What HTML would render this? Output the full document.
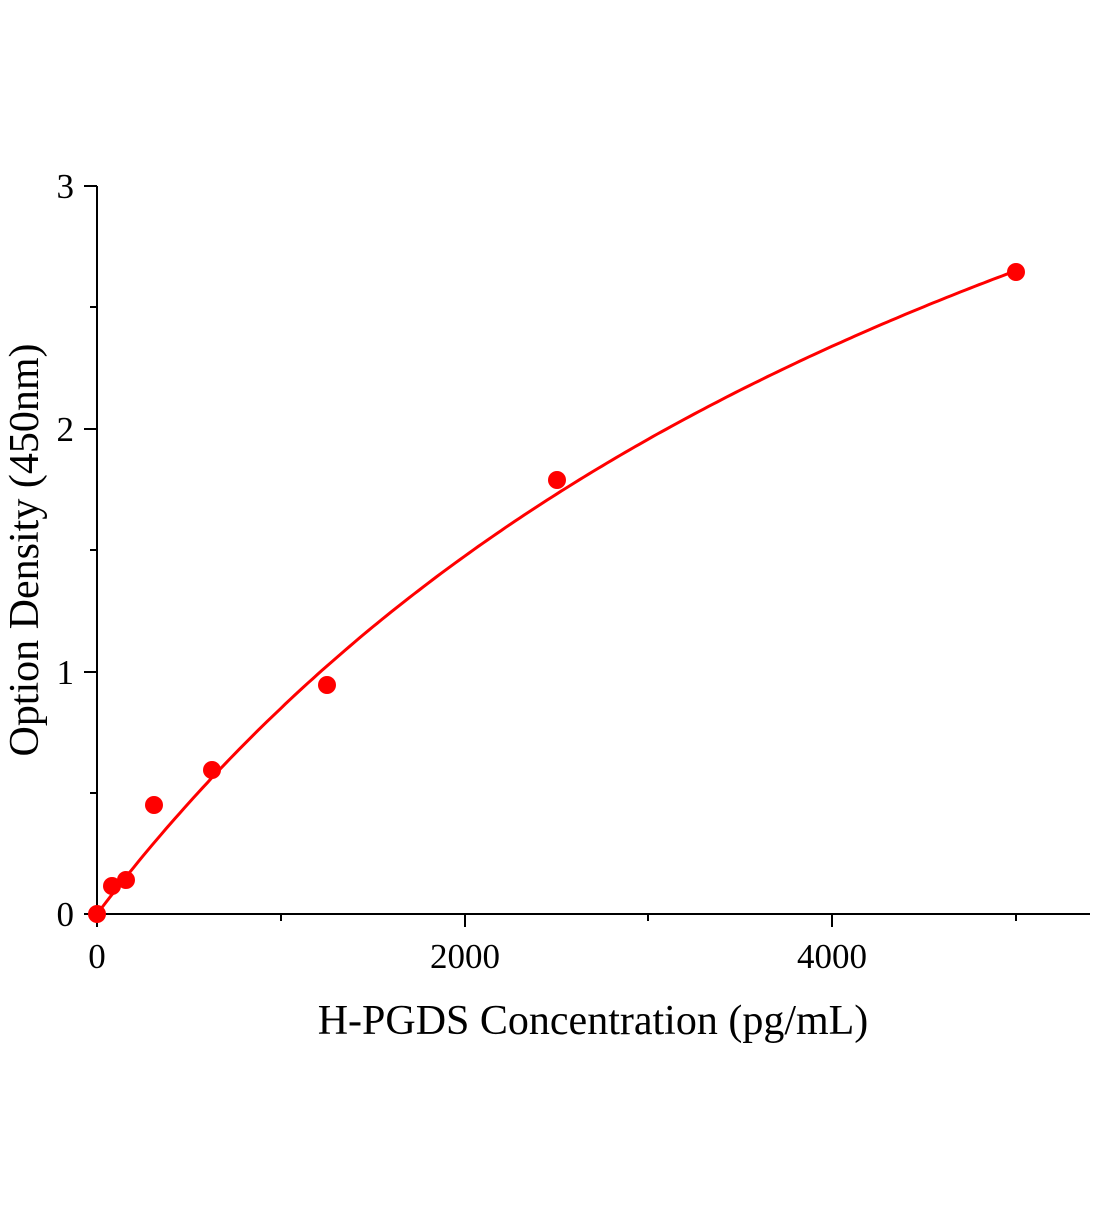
<!DOCTYPE html>
<html><head><meta charset="utf-8"><style>body{margin:0;background:#fff}</style></head>
<body>
<svg width="1104" height="1200" xmlns="http://www.w3.org/2000/svg" font-family="Liberation Serif, serif">
<rect width="1104" height="1200" fill="#fff"/>
<g stroke="#000" stroke-width="2" fill="none">
<line x1="97" y1="186" x2="97" y2="915"/>
<line x1="96" y1="914" x2="1090" y2="914"/>
<line x1="84" y1="186" x2="97" y2="186"/>
<line x1="84" y1="429" x2="97" y2="429"/>
<line x1="84" y1="672" x2="97" y2="672"/>
<line x1="84" y1="914" x2="97" y2="914"/>
<line x1="90" y1="307" x2="97" y2="307"/>
<line x1="90" y1="550" x2="97" y2="550"/>
<line x1="90" y1="793" x2="97" y2="793"/>
<line x1="97" y1="914" x2="97" y2="927"/>
<line x1="465" y1="914" x2="465" y2="927"/>
<line x1="832" y1="914" x2="832" y2="927"/>
<line x1="281" y1="914" x2="281" y2="921"/>
<line x1="648" y1="914" x2="648" y2="921"/>
<line x1="1016" y1="914" x2="1016" y2="921"/>
</g>
<g font-size="35" fill="#000">
<text x="74" y="198" text-anchor="end">3</text>
<text x="74" y="441" text-anchor="end">2</text>
<text x="74" y="684" text-anchor="end">1</text>
<text x="74" y="926" text-anchor="end">0</text>
<text x="97" y="968" text-anchor="middle">0</text>
<text x="465" y="968" text-anchor="middle">2000</text>
<text x="832" y="968" text-anchor="middle">4000</text>
</g>
<text x="593" y="1034" font-size="42" text-anchor="middle">H-PGDS Concentration (pg/mL)</text>
<text transform="translate(38,550) rotate(-90)" font-size="42" text-anchor="middle">Option Density (450nm)</text>
<path id="c" fill="none" stroke="#f00" stroke-width="3" d=""/>
<g fill="#f00">
<circle cx="97" cy="914" r="9"/>
<circle cx="112" cy="886" r="9"/>
<circle cx="126" cy="880" r="9"/>
<circle cx="154" cy="805" r="9"/>
<circle cx="212" cy="770" r="9"/>
<circle cx="327" cy="685" r="9"/>
<circle cx="557" cy="480" r="9"/>
<circle cx="1016" cy="272" r="9"/>
</g>
<script>
var d="";for(var i=0;i<=200;i++){var x=5000*i/200;var y=5.663*x/(5684+x);var px=97+x*0.18375,py=914-y*242.7;d+=(i?"L":"M")+px.toFixed(1)+","+py.toFixed(1);}
document.getElementById("c").setAttribute("d",d);
</script>
</svg>
</body></html>
